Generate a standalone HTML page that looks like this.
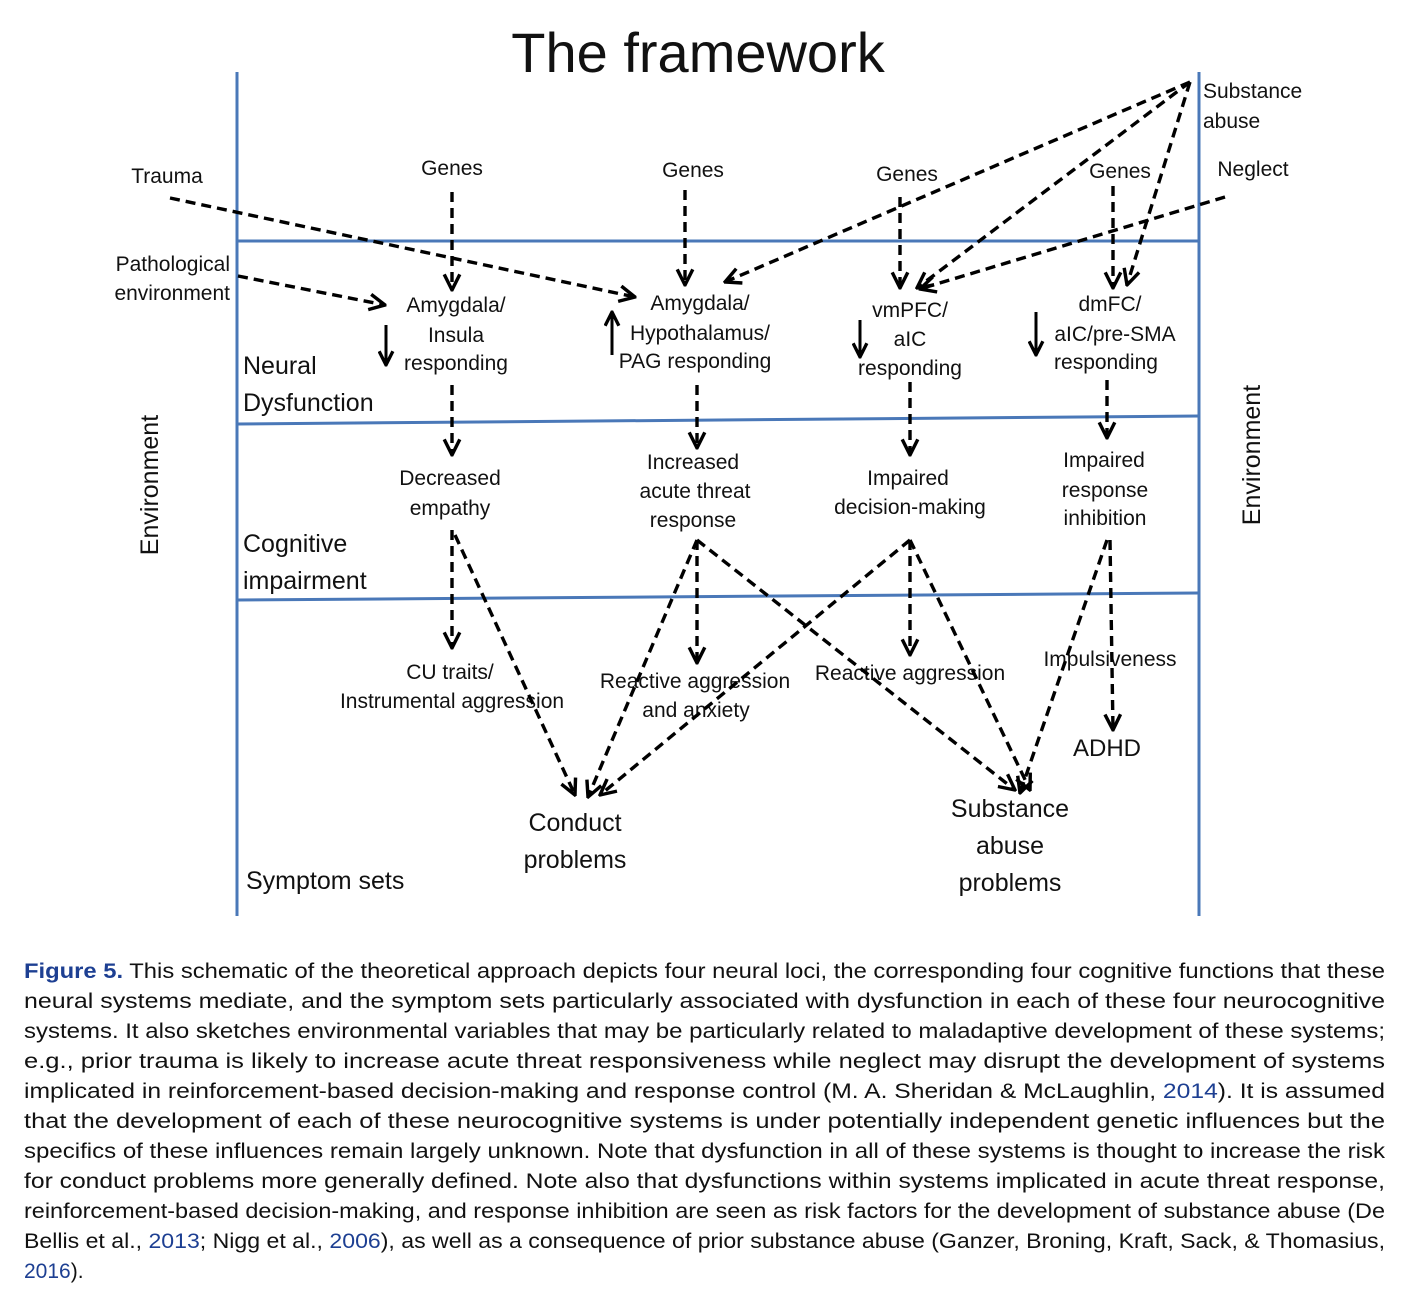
<!DOCTYPE html>
<html><head><meta charset="utf-8"><style>
html,body{margin:0;padding:0;background:#fff;}
svg{display:block;}
.d{font-family:"Liberation Sans",sans-serif;fill:#111;font-size:21px;}
.c{font-family:"Liberation Sans",sans-serif;fill:#111;font-size:21px;}
.b{fill:#1d3f92;}
.dash{stroke:#000;stroke-width:3.4;stroke-dasharray:10 6;fill:none;}
</style></head><body>
<svg width="1413" height="1302" viewBox="0 0 1413 1302" xmlns="http://www.w3.org/2000/svg">
<defs>
<marker id="a" viewBox="0 0 12 12" refX="11" refY="6" markerWidth="5.5" markerHeight="5.5" orient="auto" markerUnits="strokeWidth">
<path d="M1,1 L11,6 L1,11" fill="none" stroke="#000" stroke-width="2.2"/>
</marker>
<marker id="s" viewBox="0 0 12 12" refX="11" refY="6" markerWidth="5.5" markerHeight="5.5" orient="auto" markerUnits="strokeWidth">
<path d="M1,1 L11,6 L1,11" fill="none" stroke="#000" stroke-width="2.4"/>
</marker>
</defs>
<text x="698" y="72" text-anchor="middle" font-family="Liberation Sans,sans-serif" font-size="56" fill="#111">The framework</text>
<g stroke="#4a78b8" stroke-width="3">
<line x1="237" y1="72" x2="237" y2="916"/>
<line x1="1199" y1="72" x2="1199" y2="916"/>
<line x1="237" y1="241" x2="1199" y2="241"/>
<line x1="237" y1="424" x2="1199" y2="416"/>
<line x1="237" y1="600" x2="1199" y2="593"/>
</g>
<g class="d">
<text x="150" y="485" font-size="25" text-anchor="middle" transform="rotate(-90 150 485)" dy="8">Environment</text>
<text x="1252" y="455" font-size="25" text-anchor="middle" transform="rotate(-90 1252 455)" dy="8">Environment</text>
<text x="167" y="183" text-anchor="middle">Trauma</text>
<text x="230" y="271" text-anchor="end">Pathological</text>
<text x="230" y="300" text-anchor="end">environment</text>
<text x="452" y="175" text-anchor="middle">Genes</text>
<text x="693" y="177" text-anchor="middle">Genes</text>
<text x="907" y="181" text-anchor="middle">Genes</text>
<text x="1120" y="178" text-anchor="middle">Genes</text>
<text x="1203" y="98">Substance</text>
<text x="1203" y="128">abuse</text>
<text x="1253" y="176" text-anchor="middle">Neglect</text>
<g text-anchor="middle">
<text x="456" y="312">Amygdala/</text><text x="456" y="342">Insula</text><text x="456" y="370">responding</text>
<text x="700" y="310">Amygdala/</text><text x="700" y="340">Hypothalamus/</text><text x="695" y="368">PAG responding</text>
<text x="910" y="317">vmPFC/</text><text x="910" y="346">aIC</text><text x="910" y="375">responding</text>
<text x="1110" y="311">dmFC/</text><text x="1115" y="341">aIC/pre-SMA</text><text x="1106" y="369">responding</text>
<text x="450" y="485">Decreased</text><text x="450" y="515">empathy</text>
<text x="693" y="469">Increased</text><text x="695" y="498">acute threat</text><text x="693" y="527">response</text>
<text x="908" y="485">Impaired</text><text x="910" y="514">decision-making</text>
<text x="1104" y="467">Impaired</text><text x="1105" y="497">response</text><text x="1105" y="525">inhibition</text>
<text x="450" y="679">CU traits/</text><text x="452" y="708">Instrumental aggression</text>
<text x="695" y="688">Reactive aggression</text><text x="696" y="717">and anxiety</text>
<text x="910" y="680">Reactive aggression</text>
<text x="1110" y="666">Impulsiveness</text>
<text x="1107" y="756" font-size="24">ADHD</text>
<text x="575" y="831" font-size="25">Conduct</text><text x="575" y="868" font-size="25">problems</text>
<text x="1010" y="817" font-size="25">Substance</text><text x="1010" y="854" font-size="25">abuse</text><text x="1010" y="891" font-size="25">problems</text>
</g>
<text x="243" y="374" font-size="25">Neural</text><text x="243" y="411" font-size="25">Dysfunction</text>
<text x="243" y="552" font-size="25">Cognitive</text><text x="243" y="589" font-size="25">impairment</text>
<text x="246" y="889" font-size="25">Symptom sets</text>
</g>
<g class="dash" marker-end="url(#a)">
<line x1="170" y1="198" x2="635" y2="297"/>
<line x1="238" y1="276" x2="385" y2="305"/>
<line x1="452" y1="192" x2="452" y2="290"/>
<line x1="685" y1="190" x2="685" y2="285"/>
<line x1="900" y1="197" x2="900" y2="288"/>
<line x1="1113" y1="186" x2="1113" y2="288"/>
<line x1="1190" y1="82" x2="725" y2="282"/>
<line x1="1190" y1="82" x2="917" y2="288"/>
<line x1="1190" y1="82" x2="1127" y2="285"/>
<line x1="1225" y1="197" x2="920" y2="289"/>
<line x1="452" y1="385" x2="452" y2="455"/>
<line x1="697" y1="385" x2="697" y2="448"/>
<line x1="910" y1="382" x2="910" y2="455"/>
<line x1="1107" y1="380" x2="1107" y2="438"/>
<line x1="452" y1="530" x2="452" y2="648"/>
<line x1="455" y1="535" x2="575" y2="795"/>
<line x1="697" y1="540" x2="697" y2="663"/>
<line x1="697" y1="540" x2="588" y2="797"/>
<line x1="697" y1="540" x2="1015" y2="790"/>
<line x1="910" y1="540" x2="910" y2="655"/>
<line x1="910" y1="540" x2="1030" y2="790"/>
<line x1="910" y1="540" x2="600" y2="795"/>
<line x1="1110" y1="540" x2="1113" y2="730"/>
<line x1="1107" y1="540" x2="1020" y2="793"/>
</g>
<g stroke="#000" stroke-width="3" fill="none" marker-end="url(#s)">
<line x1="386" y1="325" x2="386" y2="365"/>
<line x1="612" y1="355" x2="612" y2="312"/>
<line x1="860" y1="320" x2="860" y2="357"/>
<line x1="1036" y1="312" x2="1036" y2="355"/>
</g>
<g class="c">
<text x="24" y="978" textLength="1361" lengthAdjust="spacingAndGlyphs"><tspan class="b" font-weight="bold">Figure 5.</tspan> This schematic of the theoretical approach depicts four neural loci, the corresponding four cognitive functions that these</text>
<text x="24" y="1008" textLength="1361" lengthAdjust="spacingAndGlyphs">neural systems mediate, and the symptom sets particularly associated with dysfunction in each of these four neurocognitive</text>
<text x="24" y="1038" textLength="1361" lengthAdjust="spacingAndGlyphs">systems. It also sketches environmental variables that may be particularly related to maladaptive development of these systems;</text>
<text x="24" y="1068" textLength="1361" lengthAdjust="spacingAndGlyphs">e.g., prior trauma is likely to increase acute threat responsiveness while neglect may disrupt the development of systems</text>
<text x="24" y="1098" textLength="1361" lengthAdjust="spacingAndGlyphs">implicated in reinforcement-based decision-making and response control (M. A. Sheridan &amp; McLaughlin, <tspan class="b">2014</tspan>). It is assumed</text>
<text x="24" y="1128" textLength="1361" lengthAdjust="spacingAndGlyphs">that the development of each of these neurocognitive systems is under potentially independent genetic influences but the</text>
<text x="24" y="1158" textLength="1361" lengthAdjust="spacingAndGlyphs">specifics of these influences remain largely unknown. Note that dysfunction in all of these systems is thought to increase the risk</text>
<text x="24" y="1188" textLength="1361" lengthAdjust="spacingAndGlyphs">for conduct problems more generally defined. Note also that dysfunctions within systems implicated in acute threat response,</text>
<text x="24" y="1218" textLength="1361" lengthAdjust="spacingAndGlyphs">reinforcement-based decision-making, and response inhibition are seen as risk factors for the development of substance abuse (De</text>
<text x="24" y="1248" textLength="1361" lengthAdjust="spacingAndGlyphs">Bellis et al., <tspan class="b">2013</tspan>; Nigg et al., <tspan class="b">2006</tspan>), as well as a consequence of prior substance abuse (Ganzer, Broning, Kraft, Sack, &amp; Thomasius,</text>
<text x="24" y="1278"><tspan class="b">2016</tspan>).</text>
</g>
</svg>
</body></html>
